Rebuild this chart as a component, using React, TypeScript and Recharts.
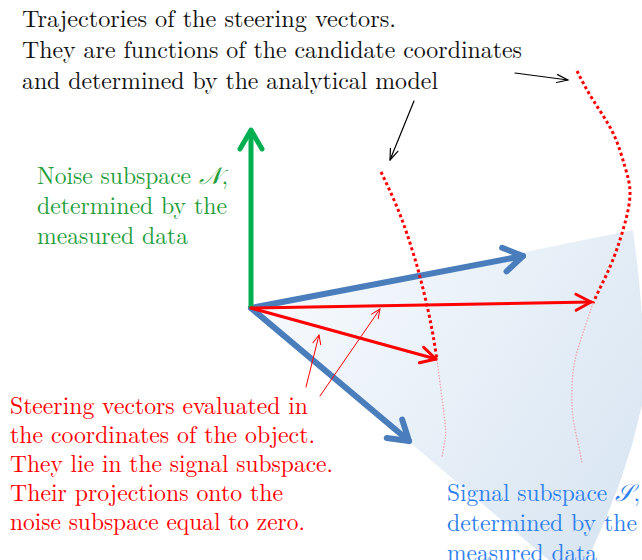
import React from 'react';
import { ComposedChart, Line, XAxis, YAxis } from 'recharts';

type Pt = { x: number; y: number };

// diagram coordinates (x right, y down), same units as the picture
const origin: Pt = { x: 251, y: 308 };
const noiseVector: Pt[] = [origin, { x: 251, y: 130 }];
const signalUpper: Pt[] = [origin, { x: 523, y: 256 }];
const signalLower: Pt[] = [origin, { x: 409, y: 441 }];
const steerFar: Pt[] = [origin, { x: 591, y: 302 }];
const steerNear: Pt[] = [origin, { x: 436, y: 359 }];

const signalPlane: Pt[] = [
  origin,
  { x: 633, y: 230 },
  { x: 638, y: 270 },
  { x: 642, y: 315 },
  { x: 645, y: 360 },
  { x: 642, y: 405 },
  { x: 632, y: 445 },
  { x: 620, y: 482 },
  { x: 606, y: 518 },
  { x: 592, y: 550 },
  { x: 578, y: 578 },
  { x: 570, y: 578 },
  origin,
];

const trajNear: Pt[] = [
  { x: 381, y: 172 }, { x: 397, y: 207 }, { x: 410, y: 243 },
  { x: 420, y: 277 }, { x: 428, y: 310 }, { x: 433, y: 335 }, { x: 437, y: 360 },
];
const trajNearHidden: Pt[] = [
  { x: 437, y: 360 }, { x: 440, y: 383 }, { x: 445, y: 423 },
  { x: 445, y: 440 }, { x: 442, y: 457 },
];
const trajFar: Pt[] = [
  { x: 577, y: 71 }, { x: 593, y: 100 }, { x: 613, y: 133 }, { x: 625, y: 167 },
  { x: 630, y: 195 }, { x: 623, y: 230 }, { x: 612, y: 262 }, { x: 602, y: 284 }, { x: 593, y: 303 },
];
const trajFarHidden: Pt[] = [
  { x: 593, y: 303 }, { x: 583, y: 333 }, { x: 575, y: 360 }, { x: 572, y: 387 },
  { x: 573, y: 417 }, { x: 578, y: 443 }, { x: 582, y: 463 },
];

const pointerFar: Pt[] = [{ x: 515, y: 73 }, { x: 568, y: 80 }];
const pointerNear: Pt[] = [{ x: 414, y: 101 }, { x: 390, y: 160 }];
const pointerSteerNear: Pt[] = [{ x: 306, y: 387 }, { x: 319, y: 335 }];
const pointerSteerFar: Pt[] = [{ x: 320, y: 396 }, { x: 380, y: 309 }];

const titleLines = [
  'Trajectories of the steering vectors.',
  'They are functions of the candidate coordinates',
  'and determined by the analytical model',
];
const noiseLines = ['Noise subspace ', 'determined by the', 'measured data'];
const steerLines = [
  'Steering vectors evaluated in',
  'the coordinates of the object.',
  'They lie in the signal subspace.',
  'Their projections onto the',
  'noise subspace equal to zero.',
];
const signalLines = ['Signal subspace ', 'determined by the', 'measured data'];

const FONT = 'Latin Modern Roman';

function Chevron({ id, color, len, spread, width }: { id: string; color: string; len: number; spread: number; width: number }) {
  return (
    <marker id={id} markerUnits="userSpaceOnUse" viewBox="-40 -40 80 80" markerWidth={80} markerHeight={80}
      refX={0} refY={0} orient="auto" overflow="visible">
      <path d={`M${-len},${-spread} L0,0 L${-len},${spread}`} fill="none" stroke={color}
        strokeWidth={width} strokeLinecap="round" strokeLinejoin="round" />
    </marker>
  );
}

function TextBlock({ lines, x, y0, step, widths, color, math }: {
  lines: string[]; x: number; y0: number; step: number; widths: number[]; color: string; math?: string;
}) {
  return (
    <g>
      {lines.map((s, i) => (
        <text key={i} x={x} y={y0 + i * step} textLength={widths[i]} lengthAdjust="spacingAndGlyphs"
          fontFamily={FONT} fontSize={24} fill={color}>
          {s}
          {math && i === 0 ? <tspan fontStyle="italic">{math}</tspan> : null}
          {math && i === 0 ? ',' : null}
        </text>
      ))}
    </g>
  );
}

const seg = (key: string, data: Pt[], color: string, width: number, extra: any = {}) => (
  <Line key={key} data={data} dataKey="y" type="linear" stroke={color} strokeWidth={width}
    dot={false} activeDot={false} isAnimationActive={false} strokeLinecap="round" {...extra} />
);

export default function App() {
  return (
    <div style={{ position: 'relative', width: 642, height: 560, background: '#fff' }}>
      <style>{`body{margin:0}
        .shade .recharts-line-curve{fill:url(#shadeGrad)}`}</style>
      <ComposedChart width={642} height={560} margin={{ top: 0, right: 0, bottom: 0, left: 0 }}>
        <defs>
          <linearGradient id="shadeGrad" x1="0" y1="0.2" x2="1" y2="0.8">
            <stop offset="0" stopColor="#f7fafd" />
            <stop offset="1" stopColor="#d8e5f2" />
          </linearGradient>
          <Chevron id="hBlue" color="#4a7dbb" len={19} spread={12} width={6} />
          <Chevron id="hGreen" color="#00b050" len={19} spread={11} width={5} />
          <Chevron id="hRed" color="#ff0000" len={15} spread={8} width={3} />
          <Chevron id="hThin" color="#ff0000" len={9} spread={4} width={1} />
          <Chevron id="hBlack" color="#000000" len={11} spread={4} width={1.2} />
        </defs>
        <XAxis type="number" dataKey="x" domain={[0, 642]} allowDataOverflow hide />
        <YAxis type="number" domain={[0, 560]} reversed allowDataOverflow hide />

        {seg('plane', signalPlane, 'none', 0, { className: 'shade' })}
        {seg('trajNearHidden', trajNearHidden, '#f2a3aa', 1.3, { type: 'natural', strokeDasharray: '1.5 1.5', strokeLinecap: 'butt' })}
        {seg('trajFarHidden', trajFarHidden, '#f2a3aa', 1.3, { type: 'natural', strokeDasharray: '1.5 1.5', strokeLinecap: 'butt' })}
        {seg('sigU', signalUpper, '#4a7dbb', 6, { markerEnd: 'url(#hBlue)' })}
        {seg('sigL', signalLower, '#4a7dbb', 6, { markerEnd: 'url(#hBlue)' })}
        {seg('noise', noiseVector, '#00b050', 5, { markerEnd: 'url(#hGreen)', strokeLinecap: 'butt' })}
        {seg('steerFar', steerFar, '#ff0000', 3, { markerEnd: 'url(#hRed)' })}
        {seg('steerNear', steerNear, '#ff0000', 3, { markerEnd: 'url(#hRed)' })}
        {seg('trajNear', trajNear, '#ff0000', 3, { type: 'natural', strokeDasharray: '3 2.8', strokeLinecap: 'butt' })}
        {seg('trajFar', trajFar, '#ff0000', 3, { type: 'natural', strokeDasharray: '3 2.8', strokeLinecap: 'butt' })}
        {seg('pFar', pointerFar, '#000', 1.2, { markerEnd: 'url(#hBlack)' })}
        {seg('pNear', pointerNear, '#000', 1.2, { markerEnd: 'url(#hBlack)' })}
        {seg('pSN', pointerSteerNear, '#ff0000', 1, { markerEnd: 'url(#hThin)' })}
        {seg('pSF', pointerSteerFar, '#ff0000', 1, { markerEnd: 'url(#hThin)' })}
      </ComposedChart>
      {/* labels sit on top of the shaded plane */}
      <svg width={642} height={560} style={{ position: 'absolute', left: 0, top: 0, pointerEvents: 'none' }}>
        <TextBlock lines={titleLines} x={22} y0={27} step={31} widths={[374, 500, 416]} color="#111" />
        <TextBlock lines={noiseLines} x={37} y0={184} step={30} widths={[191, 190, 151]} color="#1f9e3a" math={'\u{1D4A9}'} />
        <TextBlock lines={steerLines} x={10} y0={414} step={29} widths={[298, 305, 323, 273, 295]} color="#ff0000" />
        <TextBlock lines={signalLines} x={447} y0={501} step={30} widths={[193, 190, 150]} color="#2f80ed" math={'\u{1D4AE}'} />
      </svg>
    </div>
  );
}
